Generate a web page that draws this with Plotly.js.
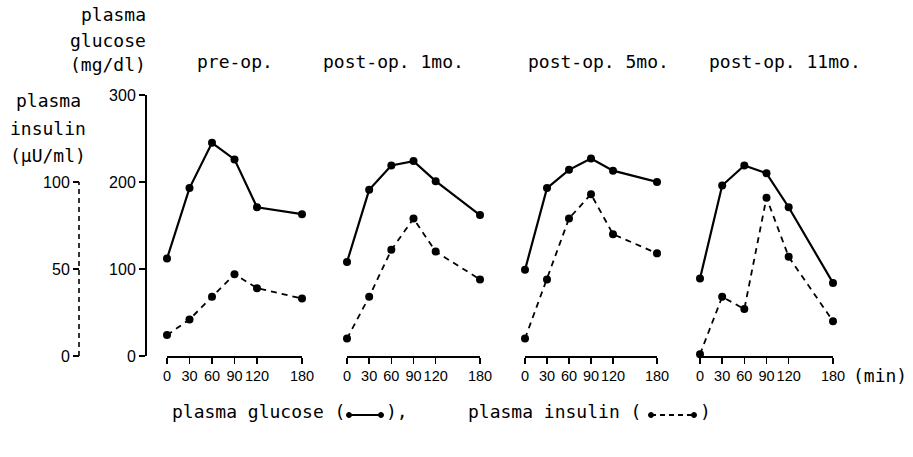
<!DOCTYPE html>
<html>
<head>
<meta charset="utf-8">
<script src="https://cdn.plot.ly/plotly-3.0.1.min.js"></script>
<style>html,body{margin:0;padding:0;background:#fff;}#chart{width:913px;height:457px;}</style>
</head>
<body>
<div id="chart"></div>
<script>
// ---- data ----
const minutes = [0, 30, 60, 90, 120, 180];
const panelTitles = ['pre-op.', 'post-op. 1mo.', 'post-op. 5mo.', 'post-op. 11mo.'];
const glucosePreOp   = [112, 193, 245, 226, 171, 163];
const glucosePost1   = [108, 191, 219, 224, 201, 162];
const glucosePost5   = [99, 193, 214, 227, 213, 200];
const glucosePost11  = [89, 196, 219, 210, 171, 84];
const insulinPreOp   = [12, 21, 34, 47, 39, 33];
const insulinPost1   = [10, 34, 61, 79, 60, 44];
const insulinPost5   = [10, 44, 79, 93, 70, 59];
const insulinPost11  = [1, 34, 27, 91, 57, 20];
const glucoseTicks = [0, 100, 200, 300];
const insulinTicks = [0, 50, 100];
const xTicks = [0, 30, 60, 90, 120, 180];

const glucoseSeries = [glucosePreOp, glucosePost1, glucosePost5, glucosePost11];
const insulinSeries = [insulinPreOp, insulinPost1, insulinPost5, insulinPost11];

// ---- layout helpers (pixel -> paper) ----
const W = 913, H = 457;
const px = x => x / W;
const py = y => 1 - y / H;

const textFont = {family: '"DejaVu Sans Mono", "DejaVu Sans", monospace', size: 18, color: '#000'};
const yNumFont = {family: '"Liberation Sans Narrow", "Liberation Sans", Arial, sans-serif', size: 16, color: '#000'};
const xNumFont = {family: '"Liberation Sans Narrow", "Liberation Sans", Arial, sans-serif', size: 14.5, color: '#000'};

const panelX = [[167, 302], [347, 480], [525, 657], [700, 833]];
const titleCenters = [235, 393, 598, 785];
const yDomain = [py(356), py(95)];
const xAxisY = py(357);

const traces = [];
const layout = {
  width: W, height: H,
  margin: {l: 0, r: 0, t: 0, b: 0},
  paper_bgcolor: '#fff', plot_bgcolor: 'rgba(0,0,0,0)',
  showlegend: false,
  font: textFont,
  annotations: [], shapes: [],
  yaxis: {
    domain: yDomain, range: [0, 300], anchor: 'free', position: px(146),
    tickvals: glucoseTicks, ticktext: glucoseTicks.map(String),
    ticks: 'outside', ticklen: 6, tickwidth: 1.6, tickcolor: '#000',
    showline: true, linewidth: 2, linecolor: '#000', tickangle: 0,
    showgrid: false, zeroline: false, tickfont: yNumFont, fixedrange: true
  },
  yaxis2: {
    domain: yDomain, range: [0, 150], anchor: 'free', position: px(79), overlaying: 'y',
    tickvals: insulinTicks, ticktext: insulinTicks.map(String),
    ticks: 'outside', ticklen: 6, tickwidth: 1.6, tickcolor: '#000', tickangle: 0,
    showline: false, showgrid: false, zeroline: false, tickfont: yNumFont, fixedrange: true
  }
};

for (let i = 0; i < 4; i++) {
  const xa = i === 0 ? 'x' : 'x' + (i + 1);
  const key = i === 0 ? 'xaxis' : 'xaxis' + (i + 1);
  layout[key] = {
    domain: [px(panelX[i][0]), px(panelX[i][1])], range: [0, 180],
    anchor: 'free', position: xAxisY,
    tickvals: xTicks, ticktext: xTicks.map(String), tickangle: 0,
    ticks: 'outside', ticklen: 6, tickwidth: 1.6, tickcolor: '#000',
    showline: true, linewidth: 2, linecolor: '#000',
    showgrid: false, zeroline: false, tickfont: xNumFont, fixedrange: true
  };
  traces.push({
    x: minutes, y: glucoseSeries[i], xaxis: xa, yaxis: 'y',
    type: 'scatter', mode: 'lines+markers', cliponaxis: false,
    line: {color: '#000', width: 2.2},
    marker: {color: '#000', size: 8}, name: 'plasma glucose'
  });
  traces.push({
    x: minutes, y: insulinSeries[i], xaxis: xa, yaxis: 'y2',
    type: 'scatter', mode: 'lines+markers', cliponaxis: false,
    line: {color: '#000', width: 1.8, dash: '6px,5px'},
    marker: {color: '#000', size: 8}, name: 'plasma insulin'
  });
  layout.annotations.push({
    text: panelTitles[i], xref: 'paper', yref: 'paper',
    x: px(titleCenters[i]), y: py(62), xanchor: 'center', yanchor: 'middle',
    showarrow: false, font: textFont
  });
}

// dashed insulin axis line
layout.shapes.push({
  type: 'line', xref: 'paper', yref: 'y2',
  x0: px(79), x1: px(79), y0: insulinTicks[0], y1: insulinTicks[insulinTicks.length - 1],
  line: {color: '#000', width: 1.6, dash: '5px,4px'}
});

// axis labels
const glLines = [['plasma', 15], ['glucose', 40], ['(mg/dl)', 64]];
glLines.forEach(([t, y]) => layout.annotations.push({
  text: t, xref: 'paper', yref: 'paper', x: px(148), y: py(y),
  xanchor: 'right', yanchor: 'middle', showarrow: false, font: textFont
}));
const inLines = [['plasma', 100], ['insulin', 128], ['(\u03BCU/ml)', 155]];
inLines.forEach(([t, y]) => layout.annotations.push({
  text: t, xref: 'paper', yref: 'paper', x: px(48), y: py(y),
  xanchor: 'center', yanchor: 'middle', showarrow: false, font: textFont
}));
layout.annotations.push({
  text: '(min)', xref: 'paper', yref: 'paper', x: px(880), y: py(375),
  xanchor: 'center', yanchor: 'middle', showarrow: false, font: textFont
});

// bottom legend
const legY = 411;
layout.annotations.push({
  text: 'plasma glucose (', xref: 'paper', yref: 'paper', x: px(170), y: py(legY),
  xanchor: 'left', yanchor: 'middle', showarrow: false, font: textFont
});
layout.annotations.push({
  text: '),', xref: 'paper', yref: 'paper', x: px(384), y: py(legY),
  xanchor: 'left', yanchor: 'middle', showarrow: false, font: textFont
});
layout.annotations.push({
  text: 'plasma insulin (', xref: 'paper', yref: 'paper', x: px(466), y: py(legY),
  xanchor: 'left', yanchor: 'middle', showarrow: false, font: textFont
});
layout.annotations.push({
  text: ')', xref: 'paper', yref: 'paper', x: px(698), y: py(legY),
  xanchor: 'left', yanchor: 'middle', showarrow: false, font: textFont
});
function legendKey(x0, x1, y, dash) {
  layout.shapes.push({type: 'line', xref: 'paper', yref: 'paper',
    x0: px(x0), x1: px(x1), y0: py(y), y1: py(y),
    line: {color: '#000', width: 2, dash: dash}});
  [x0, x1].forEach(x => layout.shapes.push({type: 'circle', xref: 'paper', yref: 'paper',
    x0: px(x - 2.5), x1: px(x + 2.5), y0: py(y + 2.5), y1: py(y - 2.5),
    fillcolor: '#000', line: {color: '#000', width: 1}}));
}
legendKey(349, 381, 415, 'solid');
legendKey(651, 694, 415, '5px,4px');

Plotly.newPlot('chart', traces, layout, {staticPlot: true, displayModeBar: false});
</script>
</body>
</html>
